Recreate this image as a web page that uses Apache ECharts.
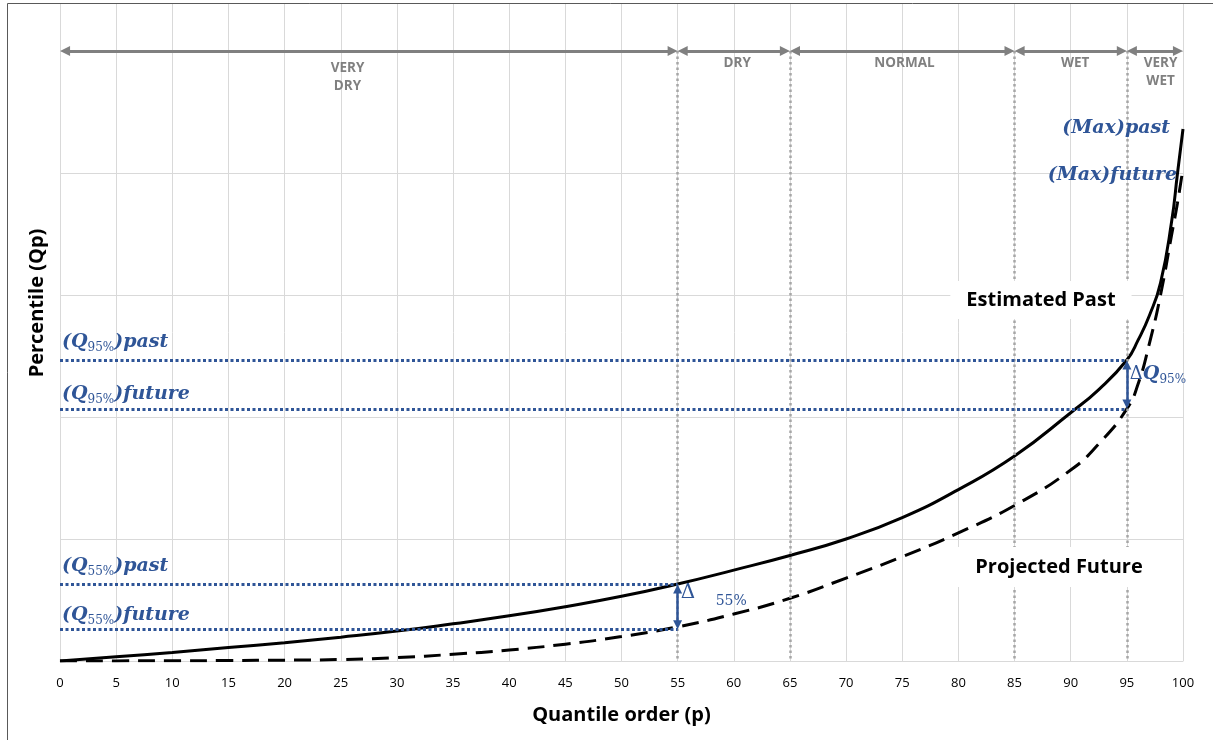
<!DOCTYPE html>
<html>
<head>
<meta charset="utf-8">
<script src="https://cdn.jsdelivr.net/npm/echarts@6/dist/echarts.min.js"></script>
<style>
  html, body { margin: 0; padding: 0; background: #fff; }
  #quantiles { width: 1213px; height: 740px; }
</style>
</head>
<body>
<div id="quantiles"></div>
<script>
// quantile order (p) and the two percentile curves (in gridline units)
const pOrder = [0, 5, 10, 15, 20, 25, 30, 35, 40, 45, 50, 55, 60, 65, 70, 75, 80, 85, 90, 92.5, 95, 96, 97, 98, 99, 99.5, 100]
const pastQ = [0, 0.035, 0.07, 0.11, 0.15, 0.195, 0.245, 0.305, 0.37, 0.445, 0.53, 0.631, 0.745, 0.865, 1.0, 1.175, 1.405, 1.68, 2.035, 2.225, 2.467, 2.63, 2.83, 3.1, 3.61, 3.99, 4.36]
const futureQ = [0, 0.001, 0.002, 0.004, 0.007, 0.012, 0.028, 0.055, 0.09, 0.138, 0.2, 0.28, 0.385, 0.514, 0.68, 0.855, 1.05, 1.275, 1.565, 1.78, 2.066, 2.27, 2.6, 3.0, 3.5, 3.75, 4.04]

// wetness classes along the top
const zoneEdges = [0, 55, 65, 85, 95, 100]
const zoneNames = ['VERY\nDRY', 'DRY', 'NORMAL', 'WET', 'VERY\nWET']
const zoneLabelP = [25.6, 60.3, 75.2, 90.4, 98]
const zoneLevel = 5

// the two marked quantiles
const markP = [55, 95]
const markSub = ['55%', '95%']
const markPast = [0.631, 2.467]
const markFuture = [0.257, 2.066]

const BLUE = '#2F5597'
const GRAY = '#808080'
const chart = echarts.init(document.getElementById('quantiles'))

const mathFont = 'DejaVu Serif'
const rich = {
  m: { fontFamily: mathFont, fontStyle: 'italic', fontWeight: 'bold', fontSize: 19, color: BLUE, lineHeight: 24 },
  s: { fontFamily: mathFont, fontSize: 12, color: BLUE, lineHeight: 14, verticalAlign: 'bottom' },
  d: { fontFamily: mathFont, fontSize: 18, color: BLUE, lineHeight: 24 },
  big: { fontFamily: mathFont, fontSize: 20, color: BLUE, lineHeight: 24 },
  pct: { fontFamily: mathFont, fontSize: 14, color: BLUE, lineHeight: 18 }
}

function textPoint (p, v, formatter, label) {
  return {
    value: [p, v],
    label: Object.assign({ show: true, formatter: formatter, position: 'inside', rich: rich, opacity: 1 }, label)
  }
}

const texts = []
markP.forEach((p, i) => {
  texts.push(textPoint(0, markPast[i], '{m|(Q}{s|' + markSub[i] + '}{m|)past}', { align: 'left', verticalAlign: 'middle', offset: [2, -18] }))
  texts.push(textPoint(0, markFuture[i], '{m|(Q}{s|' + markSub[i] + '}{m|)future}', { align: 'left', verticalAlign: 'middle', offset: [2, -15] }))
})
texts.push(textPoint(100, pastQ[pastQ.length - 1], '{m|(Max)past}', { align: 'right', verticalAlign: 'middle', offset: [-13, -1] }))
texts.push(textPoint(100, futureQ[futureQ.length - 1], '{m|(Max)future}', { align: 'right', verticalAlign: 'middle', offset: [-6, 7] }))
texts.push(textPoint(55, markPast[0], '{big|Δ}', { align: 'left', verticalAlign: 'middle', offset: [3, 9] }))
texts.push(textPoint(55, markPast[0], '{pct|55%}', { align: 'left', verticalAlign: 'middle', offset: [38, 17] }))
texts.push(textPoint(95, markPast[1], '{d|Δ}{m|Q}{s|95%}', { align: 'left', verticalAlign: 'middle', offset: [3, 14] }))

const bigLabel = { fontFamily: 'Open Sans', fontWeight: 'bold', fontSize: 20, color: '#000', backgroundColor: '#fff', align: 'center', verticalAlign: 'middle' }
texts.push(textPoint(87.35, 2.959, 'Estimated Past', Object.assign({ padding: [9, 16] }, bigLabel)))
texts.push(textPoint(88.96, 0.77, 'Projected Future', Object.assign({ padding: [10, 20] }, bigLabel)))

zoneNames.forEach((name, i) => {
  texts.push(textPoint(zoneLabelP[i], zoneLevel, name, {
    align: 'center', verticalAlign: 'top', offset: [0, i === 0 ? 8 : 3],
    fontFamily: 'Open Sans', fontWeight: 'bold', fontSize: 13.5, lineHeight: 18, color: GRAY
  }))
})

const pxX = 0.45 // half arrow head, in p units
const pxY = 0.04 // half arrow head, in Q units

const option = {
  animation: false,
  grid: { left: 60, right: 30, top: 4, bottom: 79 },
  xAxis: {
    type: 'value',
    min: 0,
    max: 100,
    interval: 5,
    name: 'Quantile order (p)',
    nameLocation: 'middle',
    nameGap: 44,
    nameTextStyle: { fontFamily: 'Open Sans', fontWeight: 'bold', fontSize: 20, color: '#000' },
    axisLine: { lineStyle: { color: '#d9d9d9', width: 1 } },
    axisTick: { show: false },
    axisLabel: { fontFamily: 'Open Sans', fontSize: 13, color: '#000', margin: 16 },
    splitLine: { show: true, lineStyle: { color: '#d9d9d9', width: 1 } }
  },
  yAxis: {
    type: 'value',
    min: 0,
    max: 5.385,
    interval: 1,
    axisLine: { show: false },
    axisTick: { show: false },
    axisLabel: { show: false },
    splitLine: { show: true, showMaxLine: false, lineStyle: { color: '#d9d9d9', width: 1 } }
  },
  graphic: [
    {
      type: 'text',
      x: 37,
      y: 303,
      rotation: Math.PI / 2,
      style: { text: 'Percentile (Qp)', fontFamily: 'Open Sans', fontWeight: 'bold', fontSize: 20, fill: '#000', align: 'center', verticalAlign: 'middle' }
    },
    {
      type: 'rect',
      silent: true,
      shape: { x: 7.5, y: 3.5, width: 1300, height: 800 },
      style: { fill: 'none', stroke: '#595959', lineWidth: 1 }
    }
  ],
  series: [
    {
      // class boundaries and their arrows
      type: 'line',
      data: [],
      z: 1,
      silent: true,
      markLine: {
        silent: true,
        symbol: 'none',
        label: { show: false },
        lineStyle: { color: '#a6a6a6', width: 2.5, type: [2.5, 3] },
        data: zoneEdges.slice(1, -1).map(p => [{ coord: [p, zoneLevel] }, { coord: [p, 0] }])
      }
    },
    {
      type: 'line',
      data: [],
      z: 2,
      silent: true,
      markLine: {
        silent: true,
        symbol: ['triangle', 'triangle'],
        symbolSize: 10,
        label: { show: false },
        lineStyle: { color: GRAY, width: 3, type: 'solid' },
        data: zoneNames.map((n, i) => [
          { coord: [zoneEdges[i] + pxX, zoneLevel] },
          { coord: [zoneEdges[i + 1] - pxX, zoneLevel] }
        ])
      }
    },
    {
      // dotted quantile levels
      type: 'line',
      data: [],
      z: 2,
      silent: true,
      markLine: {
        silent: true,
        symbol: 'none',
        label: { show: false },
        lineStyle: { color: BLUE, width: 3, type: [3, 2.5] },
        data: markP.flatMap((p, i) => [
          [{ coord: [0, markPast[i]] }, { coord: [p, markPast[i]] }],
          [{ coord: [0, markFuture[i]] }, { coord: [p, markFuture[i]] }]
        ])
      }
    },
    {
      name: 'Estimated Past',
      type: 'line',
      z: 3,
      silent: true,
      smooth: 0.5,
      symbol: 'none',
      lineStyle: { color: '#000', width: 3 },
      data: pOrder.map((p, i) => [p, pastQ[i]])
    },
    {
      name: 'Projected Future',
      type: 'line',
      z: 3,
      silent: true,
      smooth: 0.5,
      symbol: 'none',
      lineStyle: { color: '#000', width: 3, type: [17, 9] },
      data: pOrder.map((p, i) => [p, futureQ[i]])
    },
    {
      // delta arrows
      type: 'line',
      data: [],
      z: 4,
      silent: true,
      markLine: {
        silent: true,
        symbol: ['triangle', 'triangle'],
        symbolSize: 9,
        label: { show: false },
        lineStyle: { color: BLUE, width: 2.5, type: 'solid' },
        data: markP.map((p, i) => [
          { coord: [p, markPast[i] - pxY] },
          { coord: [p, markFuture[i] + pxY] }
        ])
      }
    },
    {
      type: 'scatter',
      z: 5,
      silent: true,
      symbolSize: 1,
      itemStyle: { color: 'rgba(0,0,0,0)', opacity: 1 },
      data: texts
    }
  ]
}

chart.setOption(option)
</script>
</body>
</html>
